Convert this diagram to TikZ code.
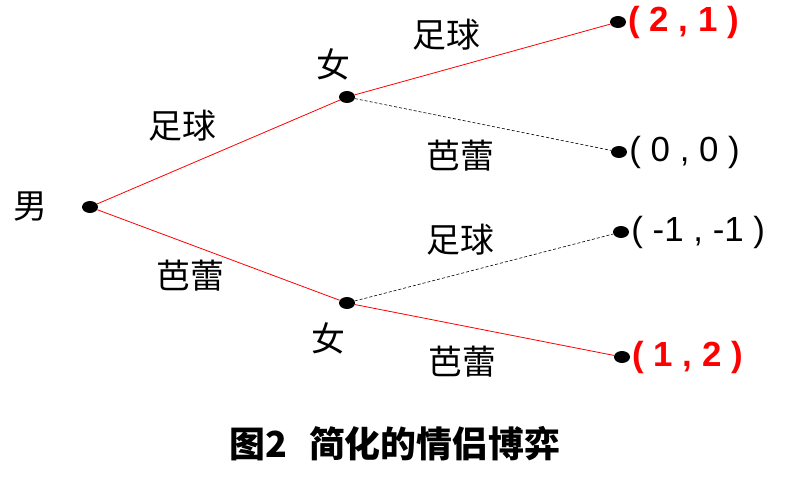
\documentclass[tikz,border=0pt]{standalone}
\usepackage{fontspec}
\setmainfont{Liberation Sans}
\newfontfamily\cjk{Noto Sans CJK SC}
\usetikzlibrary{positioning,shapes.geometric}
\definecolor{eqred}{RGB}{255,0,0}

\begin{document}
\begin{tikzpicture}[x=1bp, y=-1bp,
  dot/.style={ellipse, fill=black, inner sep=0pt, minimum width=16bp, minimum height=12bp},
  eq/.style={draw=eqred, line width=0.8bp},
  alt/.style={draw=black, dash pattern=on 3bp off 2bp, line width=0.6bp},
  act/.style={font=\cjk\fontsize{34}{34}\selectfont, inner sep=0pt},
  pay/.style={font=\fontsize{35}{35}\selectfont, inner sep=1bp, anchor=west},
  best/.style={pay, text=eqred, font=\bfseries\fontsize{35}{35}\selectfont}
]
  \useasboundingbox (0,0) rectangle (801,482);
  % ---------------- decision nodes ----------------
  \node[dot] (man) at (90,207) {};
  \node[act] (manlab) at (30,207) {男};
  \node[dot] (wup) at (347,97) {};
  \node[act] (wuplab) at (333,64) {女};
  \node[dot] (wlow) at (347,303) {};
  \node[act] (wlowlab) at (328,338) {女};
  % ---------------- terminal dots and payoffs ----------------
  \node[dot] (t1) at (618,22) {};
  \node[dot] (t2) at (619,152) {};
  \node[dot] (t3) at (621,232) {};
  \node[dot] (t4) at (622,357) {};
  \node[best, right=1bp of t1] (p1) {(\ 2 , 1\ )};
  \node[pay, right=1bp of t2] (p2) {( 0 , 0 )};
  \node[pay, right=1bp of t3] (p3) {( -1 , -1 )};
  \node[best, right=1bp of t4] (p4) {(\ 1 , 2\ )};
  % ---------------- actions ----------------
  \node[act] (a1) at (182,126) {足球};
  \node[act] (a2) at (190,276) {芭蕾};
  \node[act] (a3) at (446,35) {足球};
  \node[act] (a4) at (460,156) {芭蕾};
  \node[act] (a5) at (460,240) {足球};
  \node[act] (a6) at (462,362) {芭蕾};
  % ---------------- edges ----------------
  \draw[eq] (man) -- (wup);
  \draw[eq] (man) -- (wlow);
  \draw[eq] (wup) -- (t1);
  \draw[alt] (wup) -- (t2);
  \draw[alt] (wlow) -- (t3);
  \draw[eq] (wlow) -- (t4);
  % caption
  \node[font=\cjk\bfseries\fontsize{36}{36}\selectfont, inner sep=0pt] (cap) at (395,444) {图2\hspace{0.6em}简化的情侣博弈};
\end{tikzpicture}
\end{document}
